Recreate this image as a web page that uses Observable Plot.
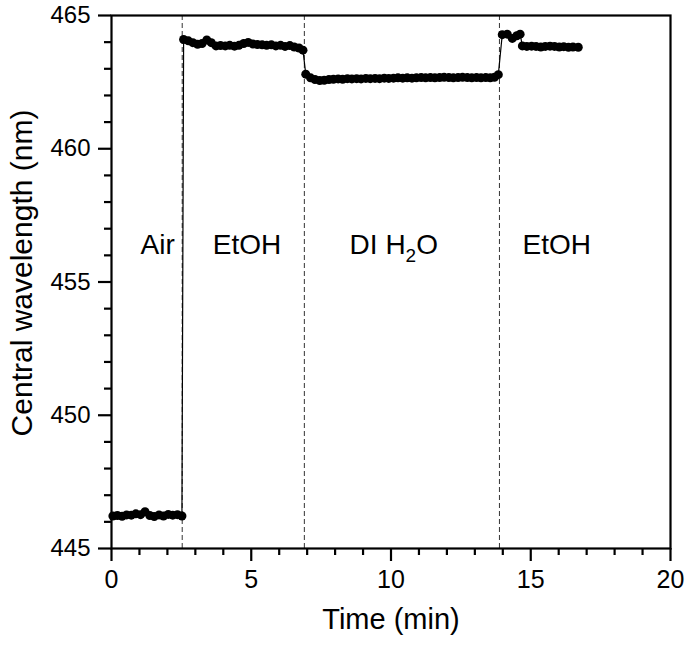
<!DOCTYPE html>
<html>
<head>
<meta charset="utf-8">
<script src="https://cdn.jsdelivr.net/npm/d3@7"></script>
<script src="https://cdn.jsdelivr.net/npm/@observablehq/plot@0.6"></script>
<style>
  html, body { margin: 0; padding: 0; background: #fff; }
  #chart { width: 685px; height: 648px; }
</style>
</head>
<body>
<div id="chart"></div>
<script>
// ---- Data ----
const timeMin = [
  // Air
  0.05,0.21,0.38,0.54,0.71,0.87,1.04,1.20,1.37,1.53,1.70,1.86,2.03,2.19,2.36,2.52,
  // EtOH
  2.58,2.75,2.91,3.08,3.24,3.41,3.57,3.74,3.90,4.07,4.23,4.40,4.56,4.73,4.89,5.06,5.22,5.39,5.55,5.72,5.88,6.05,6.21,6.38,6.54,6.71,6.85,
  // DI H2O
  6.95,7.12,7.28,7.45,7.61,7.78,7.94,8.11,8.27,8.44,8.60,8.77,8.93,9.10,9.26,9.43,9.59,9.76,9.92,10.09,10.25,10.42,10.58,10.75,10.91,11.08,11.24,11.41,11.57,11.74,11.90,12.07,12.23,12.40,12.56,12.73,12.89,13.06,13.22,13.39,13.55,13.70,13.84,
  // EtOH
  13.98,14.16,14.34,14.50,14.62,14.70,14.86,15.03,15.19,15.36,15.52,15.69,15.85,16.02,16.18,16.35,16.51,16.70
];
const wavelengthNm = [
  446.22,446.24,446.21,446.26,446.25,446.30,446.27,446.38,446.24,446.20,446.26,446.22,446.28,446.25,446.27,446.22,
  464.10,464.05,463.98,463.92,463.95,464.08,463.98,463.86,463.87,463.86,463.88,463.85,463.88,463.95,463.99,463.93,463.91,463.90,463.88,463.90,463.86,463.88,463.84,463.87,463.82,463.78,463.70,
  462.80,462.66,462.60,462.56,462.57,462.60,462.61,462.62,462.61,462.63,462.62,462.63,462.62,462.64,462.63,462.64,462.63,462.65,462.64,462.65,462.66,462.65,462.66,462.65,462.66,462.67,462.66,462.67,462.66,462.67,462.68,462.67,462.66,462.67,462.68,462.67,462.66,462.67,462.66,462.67,462.66,462.68,462.78,
  464.28,464.30,464.14,464.24,464.30,463.86,463.84,463.85,463.84,463.82,463.84,463.85,463.84,463.82,463.83,463.81,463.82,463.81
];
const switchTimes = [2.53, 6.90, 13.88];
const phaseLabels = ["Air", "EtOH", "DI H2O", "EtOH"];
const phaseLabelX = [1.65, 4.85, 10.1, 15.93];
const phaseLabelY = [456.4, 456.4, 456.4, 456.4];
const xMajorTicks = [0, 5, 10, 15, 20];
const xMinorTicks = [1,2,3,4,6,7,8,9,11,12,13,14,16,17,18,19];
const yMajorTicks = [445, 450, 455, 460, 465];
const yMinorTicks = [446,447,448,449,451,452,453,454,456,457,458,459,461,462,463,464];

const data = timeMin.map((t, i) => ({t, w: wavelengthNm[i]}));
const labels = phaseLabels.map((s, i) => ({s, x: phaseLabelX[i], y: phaseLabelY[i]}));

const FONT = "'Liberation Sans', Arial, Helvetica, sans-serif";

const chart = Plot.plot({
  width: 685,
  height: 648,
  marginLeft: 111,
  marginRight: 15,
  marginTop: 15,
  marginBottom: 100,
  style: {fontFamily: FONT, fontSize: "24px", color: "#000", background: "#fff"},
  x: {domain: [0, 20], label: null},
  y: {domain: [445, 465], label: null},
  marks: [
    Plot.ruleX(switchTimes, {stroke: "#333", strokeWidth: 1, strokeDasharray: "5,3"}),
    Plot.line(data, {x: "t", y: "w", stroke: "#000", strokeWidth: 1.2}),
    Plot.dot(data, {x: "t", y: "w", r: 4.5, fill: "#000", stroke: "none"}),
    Plot.text(labels, {x: "x", y: "y", text: "s", fontSize: 28, fill: "#000"}),
    Plot.axisX({ticks: xMajorTicks, tickSize: 13, tickPadding: 9, strokeWidth: 2.2, fontSize: 25, label: null, tickFormat: d => String(d)}),
    Plot.axisX({ticks: xMinorTicks, tickSize: 7, strokeWidth: 2.2, label: null, tickFormat: () => ""}),
    Plot.axisY({ticks: yMajorTicks, tickSize: 13, tickPadding: 8, strokeWidth: 2.2, fontSize: 24, label: null, tickFormat: d => String(d)}),
    Plot.axisY({ticks: yMinorTicks, tickSize: 7, strokeWidth: 2.2, label: null, tickFormat: () => ""}),
    Plot.frame({stroke: "#000", strokeWidth: 2.2}),
    Plot.text(["Time (min)"], {frameAnchor: "bottom", dy: 80, fontSize: 29, fill: "#000"}),
    Plot.text(["Central wavelength (nm)"], {frameAnchor: "left", textAnchor: "middle", dx: -89, dy: -9, rotate: -90, fontSize: 30, fill: "#000"})
  ]
});

// Subscript for H2O
d3.select(chart).selectAll("text").each(function() {
  const el = d3.select(this);
  if (el.text() === "DI H2O") {
    el.text(null);
    el.append("tspan").text("DI H");
    el.append("tspan").attr("font-size", 19).attr("dy", 8).text("2");
    el.append("tspan").attr("dy", -8).text("O");
  }
});

document.getElementById("chart").appendChild(chart);
</script>
</body>
</html>
